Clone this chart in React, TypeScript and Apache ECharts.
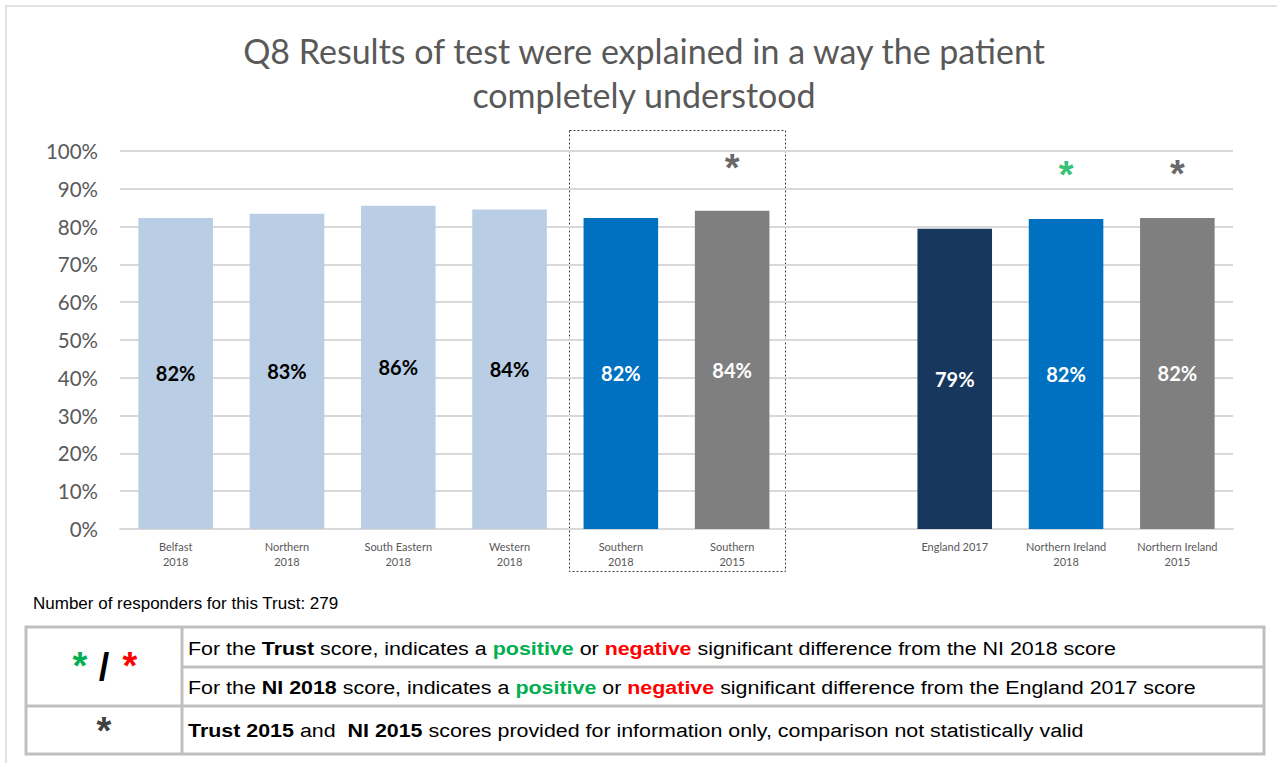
import React, { useEffect, useRef } from "react";
import * as echarts from "echarts";

const categories = [
  "Belfast\n2018",
  "Northern\n2018",
  "South Eastern\n2018",
  "Western\n2018",
  "Southern\n2018",
  "Southern\n2015",
  "",
  "England 2017",
  "Northern Ireland\n2018",
  "Northern Ireland\n2015",
];
const values: (number | null)[] = [82.3, 83.4, 85.5, 84.5, 82.3, 84.2, null, 79.4, 82.0, 82.3];
const shownLabels = ["82%", "83%", "86%", "84%", "82%", "84%", "", "79%", "82%", "82%"];
const barColors = ["#B9CDE5", "#B9CDE5", "#B9CDE5", "#B9CDE5", "#0070C0", "#7F7F7F", "#ffffff", "#17375E", "#0070C0", "#7F7F7F"];
const labelColors = ["#000000", "#000000", "#000000", "#000000", "#ffffff", "#ffffff", "#ffffff", "#ffffff", "#ffffff", "#ffffff"];
// significance markers: '' none, 'info' dark, 'pos' green, 'neg' red
const markers = ["", "", "", "", "", "info", "", "", "pos", "info"];
const markerLevels: (number | null)[] = [null, null, null, null, null, 95.6, null, null, 93.6, 94.0];
const yTicks = [0, 10, 20, 30, 40, 50, 60, 70, 80, 90, 100];

const title = "Q8 Results of test were explained in a way the patient\ncompletely understood";
const responders = "Number of responders for this Trust: 279";

export default function App() {
  const ref = useRef<HTMLDivElement>(null);
  useEffect(() => {
    document.body.style.margin = "0";
    if (!ref.current) return;
    const chart = echarts.init(ref.current, null, { renderer: "svg" });
    const markerColor = (m: string) => (m === "pos" ? "#00B050" : m === "neg" ? "#FF0000" : "#404040");
    const tableText = { fontFamily: "Liberation Sans", fontSize: 18, fill: "#000" };
    const rich = {
      b: { fontFamily: "Liberation Sans", fontSize: 18, fontWeight: "bold", fill: "#000" },
      g: { fontFamily: "Liberation Sans", fontSize: 18, fontWeight: "bold", fill: "#00B050" },
      r: { fontFamily: "Liberation Sans", fontSize: 18, fontWeight: "bold", fill: "#FF0000" },
    };
    const border = { stroke: "#BFBFBF", lineWidth: 3 };
    const sx = 1.19;
    chart.setOption({
      animation: false,
      backgroundColor: "#ffffff",
      grid: { left: 120, right: 44, top: 151, bottom: 234 },
      xAxis: {
        type: "category",
        data: categories,
        axisTick: { show: false },
        axisLine: { lineStyle: { color: "#D9D9D9", width: 2 } },
        axisLabel: { color: "#595959", fontFamily: "Lato", fontSize: 11, lineHeight: 15, margin: 10, interval: 0 },
      },
      yAxis: {
        type: "value",
        min: 0,
        max: 100,
        interval: 10,
        axisLabel: {
          color: "#595959",
          fontFamily: "Lato",
          fontSize: 20.5,
          margin: 22,
          formatter: (v: number) => (yTicks.includes(v) ? v + "%" : ""),
        },
        splitLine: { lineStyle: { color: "#D9D9D9", width: 2 } },
        axisLine: { show: false },
        axisTick: { show: false },
      },
      series: [
        {
          type: "bar",
          barWidth: "67%",
          data: values.map((v, i) => ({
            value: v,
            itemStyle: { color: barColors[i] },
            label: { color: labelColors[i] },
          })),
          label: {
            show: true,
            position: "inside",
            fontFamily: "Lato",
            fontWeight: "bold",
            fontSize: 20,
            formatter: (p: any) => shownLabels[p.dataIndex],
          },
        },
        {
          type: "scatter",
          symbolSize: 1,
          itemStyle: { color: "rgba(0,0,0,0)" },
          data: markerLevels.map((v, i) => ({
            value: v,
            label: { color: markerColor(markers[i]) },
          })),
          label: {
            show: true,
            position: "inside",
            fontFamily: "Liberation Sans",
            fontWeight: "bold",
            fontSize: 38,
            formatter: (p: any) => (markers[p.dataIndex] ? "*" : ""),
          },
        },
      ],
      graphic: [
        { type: "rect", shape: { x: 6, y: 6, width: 1300, height: 800 }, style: { fill: "none", stroke: "#D9D9D9", lineWidth: 1.5 }, silent: true },
        {
          type: "text",
          x: 644,
          y: 28,
          style: { text: title, fontFamily: "Lato", fontSize: 34, fill: "#595959", align: "center", lineHeight: 44 },
        },
        {
          type: "rect",
          shape: { x: 569.5, y: 130.5, width: 216, height: 441 },
          style: { fill: "none", stroke: "#404040", lineWidth: 1, lineDash: [2, 2] },
        },
        { type: "text", x: 33, y: 595, style: { text: responders, fontFamily: "Liberation Sans", fontSize: 17, fill: "#000" } },
        // table borders
        { type: "rect", shape: { x: 26, y: 627, width: 1238, height: 127 }, style: { fill: "none", ...border } },
        { type: "line", shape: { x1: 182, y1: 627, x2: 182, y2: 754 }, style: border },
        { type: "line", shape: { x1: 26, y1: 706, x2: 1264, y2: 706 }, style: border },
        { type: "line", shape: { x1: 182, y1: 667, x2: 1264, y2: 667 }, style: border },
        // left cells
        { type: "text", x: 80, y: 666, style: { text: "*", fontFamily: "Liberation Sans", fontWeight: "bold", fontSize: 38, fill: "#00B050", align: "center", verticalAlign: "middle" } },
        { type: "text", x: 104, y: 667, style: { text: "/", fontFamily: "Liberation Sans", fontWeight: "bold", fontSize: 38, fill: "#000", align: "center", verticalAlign: "middle" } },
        { type: "text", x: 130, y: 666, style: { text: "*", fontFamily: "Liberation Sans", fontWeight: "bold", fontSize: 38, fill: "#FF0000", align: "center", verticalAlign: "middle" } },
        { type: "text", x: 104, y: 731, style: { text: "*", fontFamily: "Liberation Sans", fontWeight: "bold", fontSize: 38, fill: "#404040", align: "center", verticalAlign: "middle" } },
        // right cells
        {
          type: "text",
          x: 188,
          y: 649,
          scaleX: sx,
          style: {
            text: "For the {b|Trust} score, indicates a {g|positive} or {r|negative} significant difference from the NI 2018 score",
            rich,
            ...tableText,
            verticalAlign: "middle",
          },
        },
        {
          type: "text",
          x: 188,
          y: 688,
          scaleX: sx,
          style: {
            text: "For the {b|NI 2018} score, indicates a {g|positive} or {r|negative} significant difference from the England 2017 score",
            rich,
            ...tableText,
            verticalAlign: "middle",
          },
        },
        {
          type: "text",
          x: 188,
          y: 731,
          scaleX: sx,
          style: {
            text: "{b|Trust 2015} and  {b|NI 2015} scores provided for information only, comparison not statistically valid",
            rich,
            ...tableText,
            verticalAlign: "middle",
          },
        },
      ],
    });
    return () => chart.dispose();
  }, []);
  return <div ref={ref} style={{ width: 1277, height: 763 }} />;
}
